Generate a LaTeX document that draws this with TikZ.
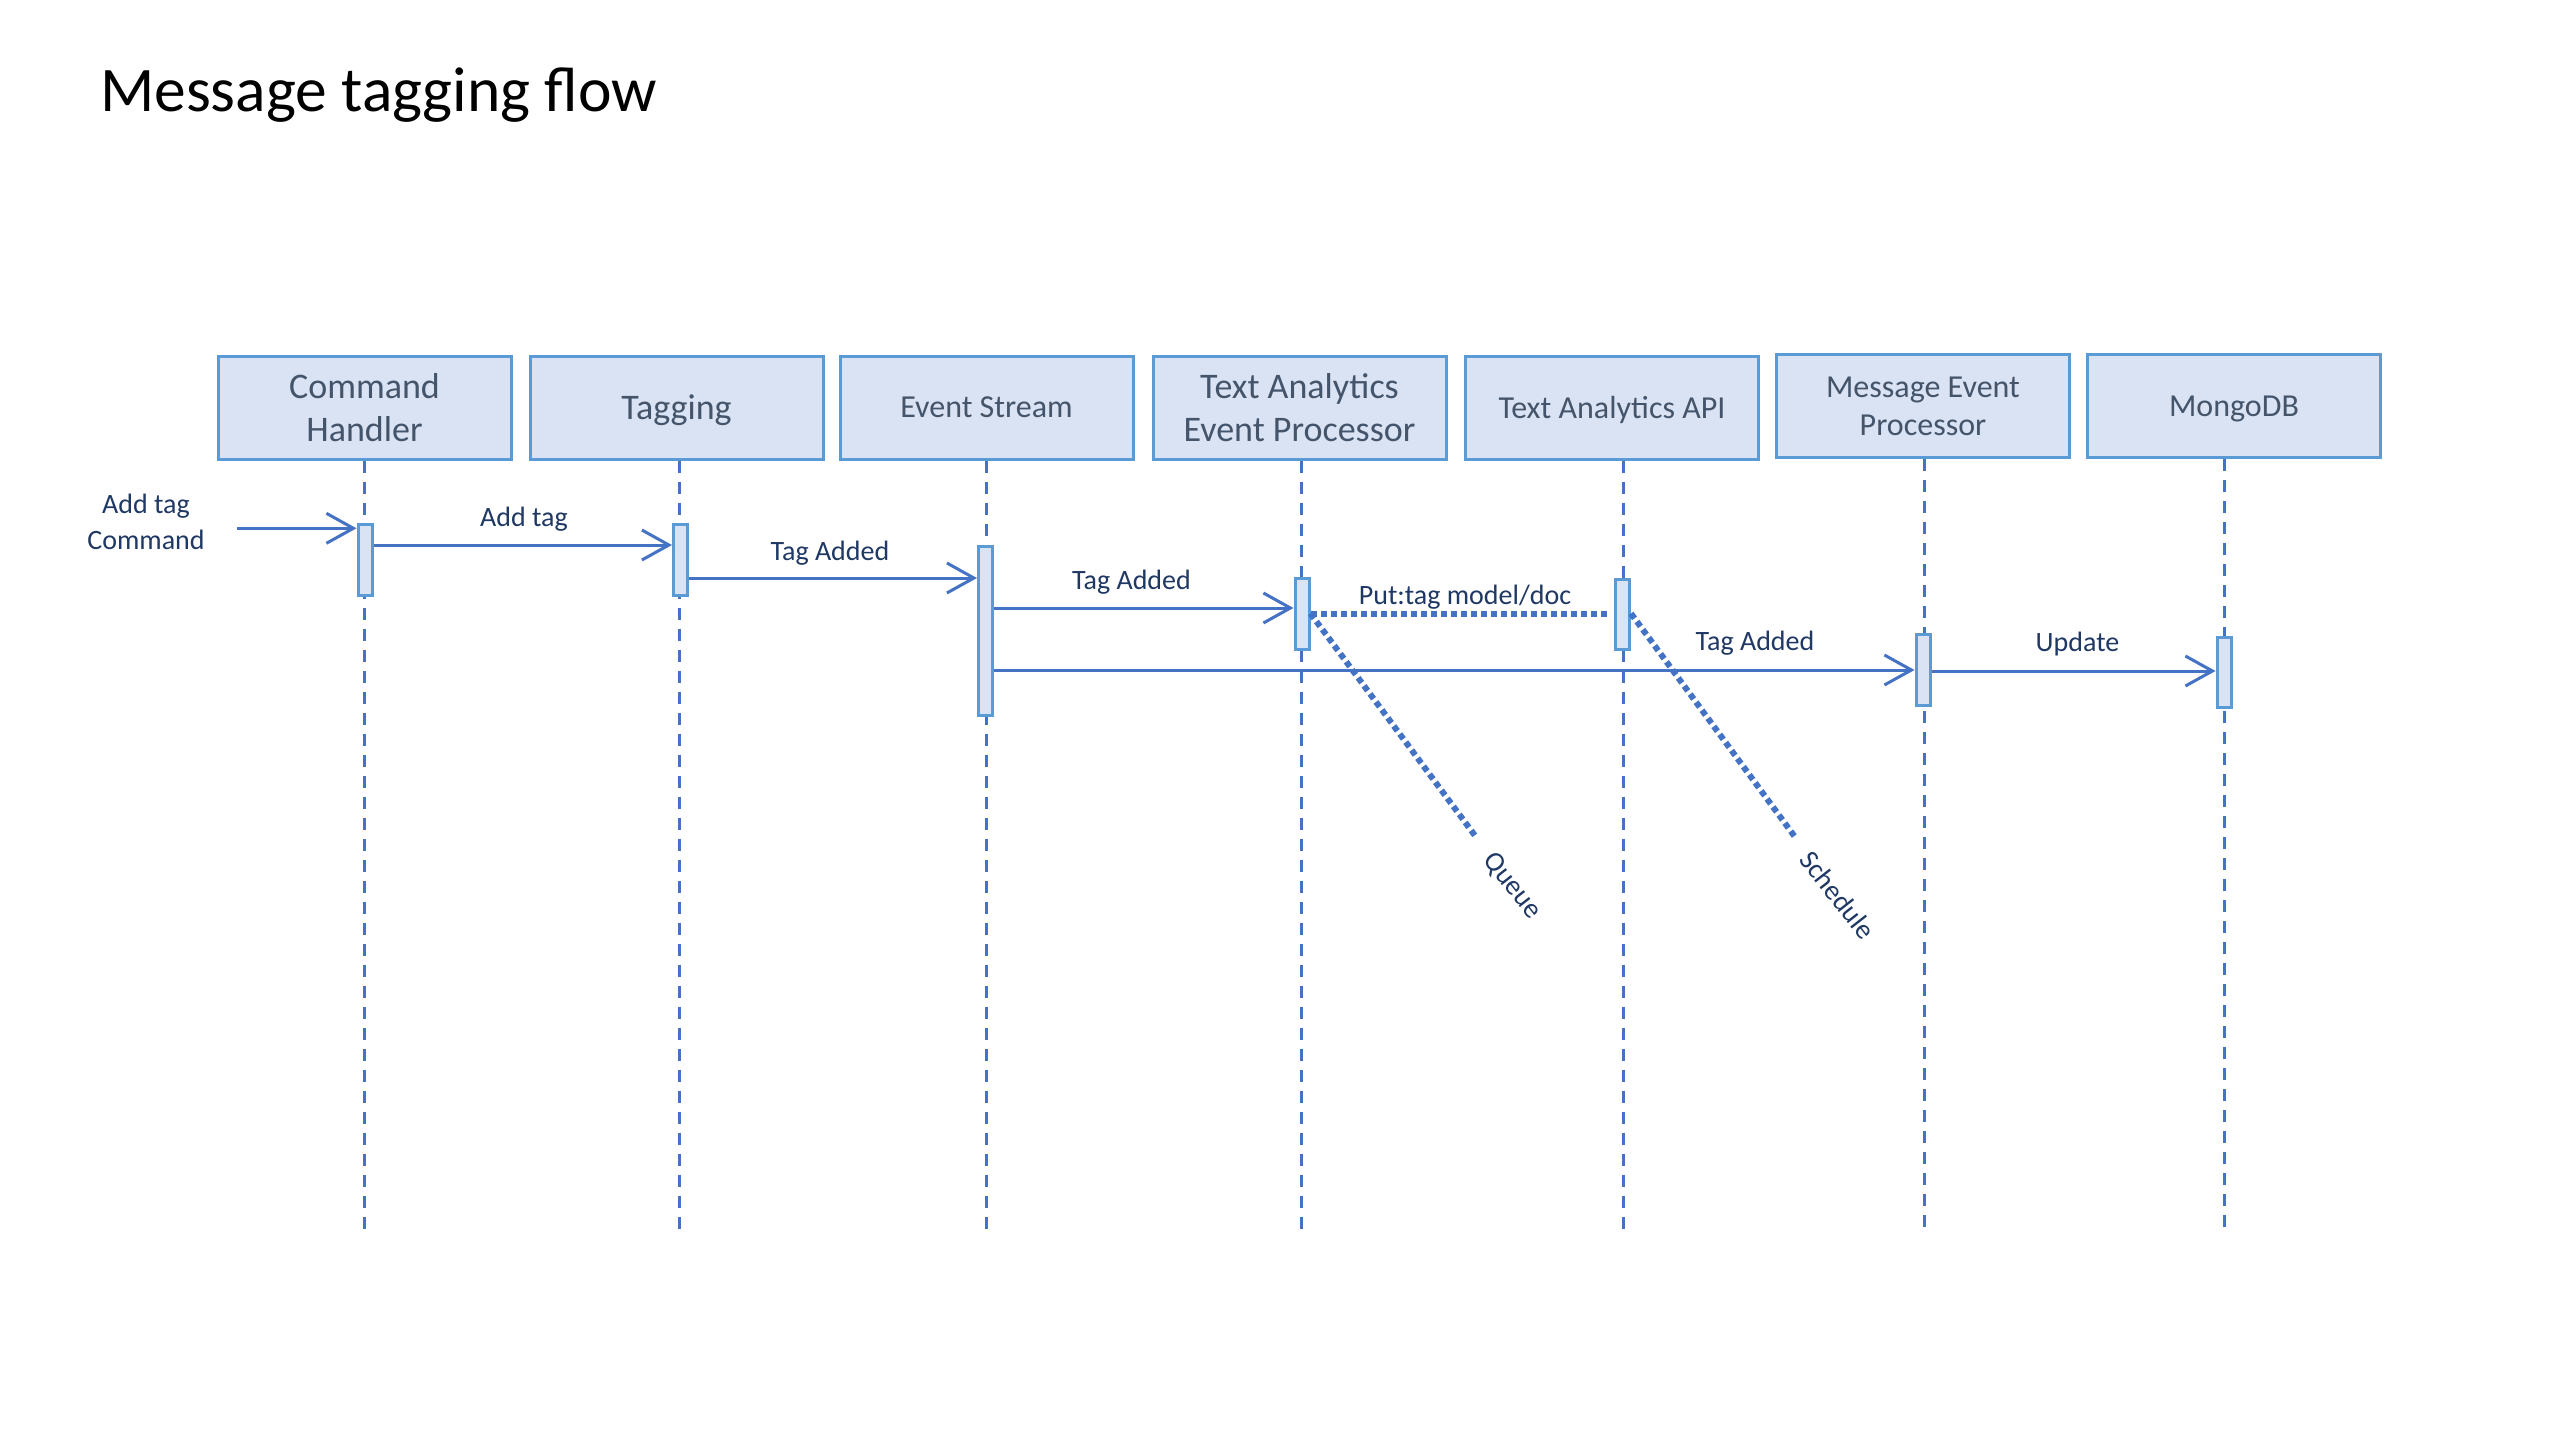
\documentclass[tikz,border=0pt]{standalone}
\usepackage{fontspec}
\setmainfont{Carlito}
\usetikzlibrary{arrows.meta}
\definecolor{lineblue}{HTML}{4472C4}
\definecolor{boxborder}{HTML}{5B9BD5}
\definecolor{boxfill}{HTML}{DAE3F3}
\definecolor{boxtext}{HTML}{44546A}
\definecolor{navy}{HTML}{1F3864}
\tikzset{
  hdr/.style={draw=boxborder, fill=boxfill, line width=3pt, minimum width=293pt, minimum height=103pt, inner sep=0pt, align=center, text=boxtext},
  big/.style={font=\fontsize{36}{43}\selectfont},
  small/.style={font=\fontsize{32}{38}\selectfont},
  oneline/.style={text depth=0pt},
  bar/.style={draw=boxborder, fill=boxfill, line width=3pt, minimum width=14pt, inner sep=0pt},
  life/.style={draw=lineblue, line width=3pt, dash pattern=on 12pt off 9pt},
  msg/.style={draw=lineblue, line width=3pt, -{Straight Barb[length=27pt,width=30pt]}},
  dots/.style={draw=lineblue, line width=6pt, dash pattern=on 6pt off 4pt},
  lbl/.style={text=navy, font=\fontsize{28}{36}\selectfont, inner sep=0pt, anchor=base},
  rlbl/.style={text=navy, font=\fontsize{28}{36}\selectfont, inner sep=0pt, rotate=-52}
}
\begin{document}
\begin{tikzpicture}[x=1pt, y=-1pt]
\useasboundingbox[fill=white] (0,0) rectangle (2560,1440);

\node[anchor=base west, inner sep=0pt, font=\fontsize{63.5}{76}\selectfont] (title) at (100,111.7) {Message tagging flow};

% header boxes
\node[hdr, big] (ch) at (364.5,407.5) {Command\\Handler};
\node[hdr, big, oneline] (tg) at (676.5,407.5) {Tagging};
\node[hdr, small, oneline] (es) at (986.5,407.5) {Event Stream};
\node[hdr, big] (taep) at (1299.5,407.5) {Text Analytics\\Event Processor};
\node[hdr, small, oneline] (api) at (1612,407.5) {Text Analytics API};
\node[hdr, small] (mep) at (1923,406) {Message Event\\Processor};
\node[hdr, small, oneline] (mdb) at (2234,406) {MongoDB};

% lifeline ends
\coordinate (chE) at (364.5,1229);
\coordinate (tgE) at (679,1229);
\coordinate (esE) at (986,1229);
\coordinate (taepE) at (1301,1229);
\coordinate (apiE) at (1623,1229);
\coordinate (mepE) at (1924.5,1229);
\coordinate (mdbE) at (2224,1229);

\draw[life] (ch.south -| chE) -- (chE);
\draw[life] (tg.south -| tgE) -- (tgE);
\draw[life] (es.south -| esE) -- (esE);
\draw[life] (taep.south -| taepE) -- (taepE);
\draw[life] (api.south -| apiE) -- (apiE);
\draw[life] (mep.south -| mepE) -- (mepE);
\draw[life] (mdb.south -| mdbE) -- (mdbE);

% activation bars
\node[bar, minimum height=71pt] (chb) at (365,559.5) {};
\node[bar, minimum height=71pt] (tgb) at (680.5,559.5) {};
\node[bar, minimum height=169pt] (esb) at (985.5,630.5) {};
\node[bar, minimum height=71pt] (taepb) at (1302,613.5) {};
\node[bar, minimum height=70pt] (apib) at (1622.5,614.5) {};
\node[bar, minimum height=71pt] (mepb) at (1923,669.5) {};
\node[bar, minimum height=70pt] (mdbb) at (2224,672) {};

% message levels
\coordinate (in0) at (236.7,528.3);
\coordinate (y1) at (0,545);
\coordinate (y2) at (0,578);
\coordinate (y3) at (0,608);
\coordinate (y4) at (0,670);
\coordinate (y5) at (0,671);
\coordinate (yp) at (0,613.5);
\coordinate (putEnd) at (1607.5,613.5);
\coordinate (qEnd) at (1476,837);
\coordinate (sEnd) at (1795,837);

\draw[msg] (in0) -- (chb.west |- in0);
\draw[msg] (chb.east |- y1) -- (tgb.west |- y1);
\draw[msg] (tgb.east |- y2) -- (esb.west |- y2);
\draw[msg] (esb.east |- y3) -- (taepb.west |- y3);
\draw[msg] (esb.east |- y4) -- (mepb.west |- y4);
\draw[msg] (mepb.east |- y5) -- (mdbb.west |- y5);

\draw[dots] (taepb.east |- yp) -- (putEnd);
\draw[dots] (taepb.east |- yp) -- (qEnd);
\draw[dots] (apib.east |- yp) -- (sEnd);

% labels
\node[lbl] (lin1) at (146,513.3) {Add tag};
\node[lbl] (lin2) at (146,549) {Command};
\node[lbl] (l1) at (524,526.7) {Add tag};
\node[lbl] (l2) at (830,560.7) {Tag Added};
\node[lbl] (l3) at (1131.5,589.3) {Tag Added};
\node[lbl] (lput) at (1465,604.3) {Put:tag model/doc};
\node[lbl] (l4) at (1755,650) {Tag Added};
\node[lbl] (l5) at (2077.5,651.7) {Update};
\node[rlbl] (lq) at (1512,886) {Queue};
\node[rlbl] (ls) at (1838,895) {Schedule};
\end{tikzpicture}
\end{document}
